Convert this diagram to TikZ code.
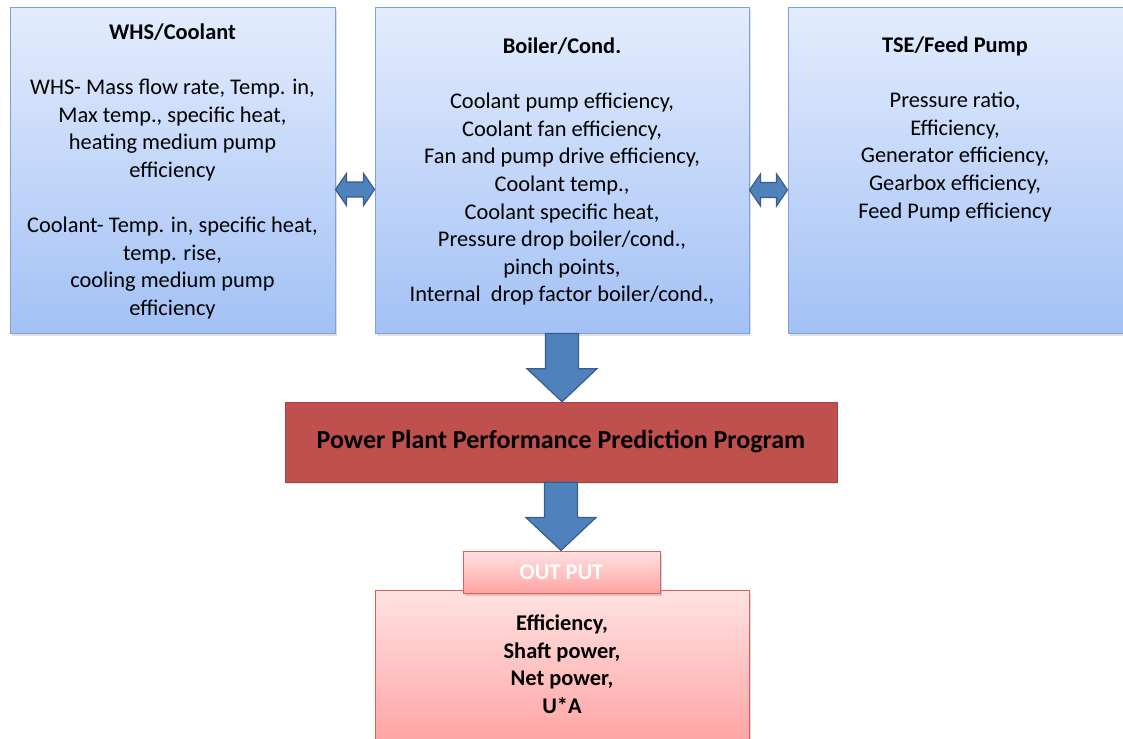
\documentclass[tikz,border=0pt]{standalone}
\usepackage{fontspec}
\setmainfont{Carlito}
\usetikzlibrary{shadows,calc}
\definecolor{bluetop}{RGB}{227,236,253}
\definecolor{bluebot}{RGB}{163,193,245}
\definecolor{bluebd}{RGB}{126,161,214}
\definecolor{arrowfill}{RGB}{79,129,189}
\definecolor{arrowbd}{RGB}{56,93,138}
\definecolor{progred}{RGB}{192,80,77}
\definecolor{pinktop}{RGB}{255,226,226}
\definecolor{pinkbot}{RGB}{255,163,163}
\definecolor{pinkbd}{RGB}{214,96,96}
\begin{document}
\begin{tikzpicture}[x=1pt,y=-1pt,
  bluebox/.style={draw=bluebd, line width=1pt, top color=bluetop, bottom color=bluebot,
    drop shadow={shadow xshift=1.5pt, shadow yshift=-2.5pt, opacity=0.25}},
  pinkbox/.style={draw=pinkbd, line width=1pt, top color=pinktop, bottom color=pinkbot,
    drop shadow={shadow xshift=1.5pt, shadow yshift=-2.5pt, opacity=0.3}},
  progbox/.style={fill=progred, draw=progred!85!black, line width=0.6pt,
    drop shadow={shadow xshift=1pt, shadow yshift=-2pt, opacity=0.2}},
  blockarrow/.style={fill=arrowfill, draw=arrowbd, line width=1.2pt, line join=miter},
  txt/.style={font={\fontsize{22.4}{27.6}\selectfont}, align=center, inner sep=0pt, text=black},
]
\useasboundingbox (0,0) rectangle (1123,738);
\clip (0,0) rectangle (1123,738);

% boxes
\node[bluebox, minimum width=325, minimum height=325, inner sep=0] (whs) at (172.5,170.5) {};
\node[bluebox, minimum width=374, minimum height=325, inner sep=0] (boiler) at (562,170.5) {};
\node[bluebox, minimum width=345, minimum height=325, inner sep=0] (tse) at (960.5,170.5) {};
\node[progbox, minimum width=552, minimum height=80, inner sep=0,
  font={\fontsize{26}{31}\selectfont\bfseries}] (prog) at (561,442)
  {Power Plant Performance Prediction Program};
\node[pinkbox, minimum width=374, minimum height=155, inner sep=0] (outbox) at (562,667.5) {};
\node[pinkbox, minimum width=197, minimum height=42, inner sep=0,
  font={\fontsize{22.4}{27.6}\selectfont\bfseries}, text=white] (outhead) at (561.5,572) {OUT PUT};

% texts
\node[txt, anchor=north] (whstxt) at (172.5,23.5) {\textbf{WHS/Coolant}\\[27.6pt]
  WHS- Mass flow rate, Temp. in,\\ Max temp., specific heat,\\ heating medium pump\\ efficiency\\[27.6pt]
  Coolant- Temp. in, specific heat,\\ temp. rise,\\ cooling medium pump\\ efficiency};
\node[txt, anchor=north] (boilertxt) at (562,37.5) {\textbf{Boiler/Cond.}\\[27.6pt]
  Coolant pump efficiency,\\ Coolant fan efficiency,\\ Fan and pump drive efficiency,\\
  Coolant temp.,\\ Coolant specific heat,\\ Pressure drop boiler/cond.,\\ pinch points,\\
  Internal\ \ drop factor boiler/cond.,};
\node[txt, anchor=north] (tsetxt) at (955,36.5) {\textbf{TSE/Feed Pump}\\[27.6pt]
  Pressure ratio,\\ Efficiency,\\ Generator efficiency,\\ Gearbox efficiency,\\ Feed Pump efficiency};
\node[txt, anchor=north, font={\fontsize{22.4}{27.6}\selectfont\bfseries}] (outtxt) at (562,614.5)
  {Efficiency,\\ Shaft power,\\ Net power,\\ U*A};

% double arrows
\coordinate (dya) at (0,189.5);
\coordinate (dyb) at (0,190);
\draw[blockarrow] (whs.east |- dya) -- ++(11,-16) -- ++(0,8.5)
  -- ($(boiler.west |- dya)+(-11,-7.5)$) -- ++(0,-8.5) -- (boiler.west |- dya)
  -- ++(-11,16) -- ++(0,-8.5) -- ($(whs.east |- dya)+(11,7.5)$) -- ++(0,8.5) -- cycle;
\draw[blockarrow] (boiler.east |- dyb) -- ++(11,-16) -- ++(0,8.5)
  -- ($(tse.west |- dyb)+(-11,-7.5)$) -- ++(0,-8.5) -- (tse.west |- dyb)
  -- ++(-11,16) -- ++(0,-8.5) -- ($(boiler.east |- dyb)+(11,7.5)$) -- ++(0,8.5) -- cycle;

% down arrows
\draw[blockarrow] ($(boiler.south)+(-16.5,0)$) -- ($(boiler.south |- prog.north)+(-16.5,-33)$)
  -- ++(-18.5,0) -- (boiler.south |- prog.north) -- ++(35,-33) -- ++(-18.5,0)
  -- ($(boiler.south)+(16.5,0)$) -- cycle;
\draw[blockarrow] ($(prog.south)+(-16.5,0)$) -- ($(prog.south |- outhead.north)+(-16.5,-33)$)
  -- ++(-18.5,0) -- (prog.south |- outhead.north) -- ++(35,-33) -- ++(-18.5,0)
  -- ($(prog.south)+(16.5,0)$) -- cycle;
\end{tikzpicture}
\end{document}
